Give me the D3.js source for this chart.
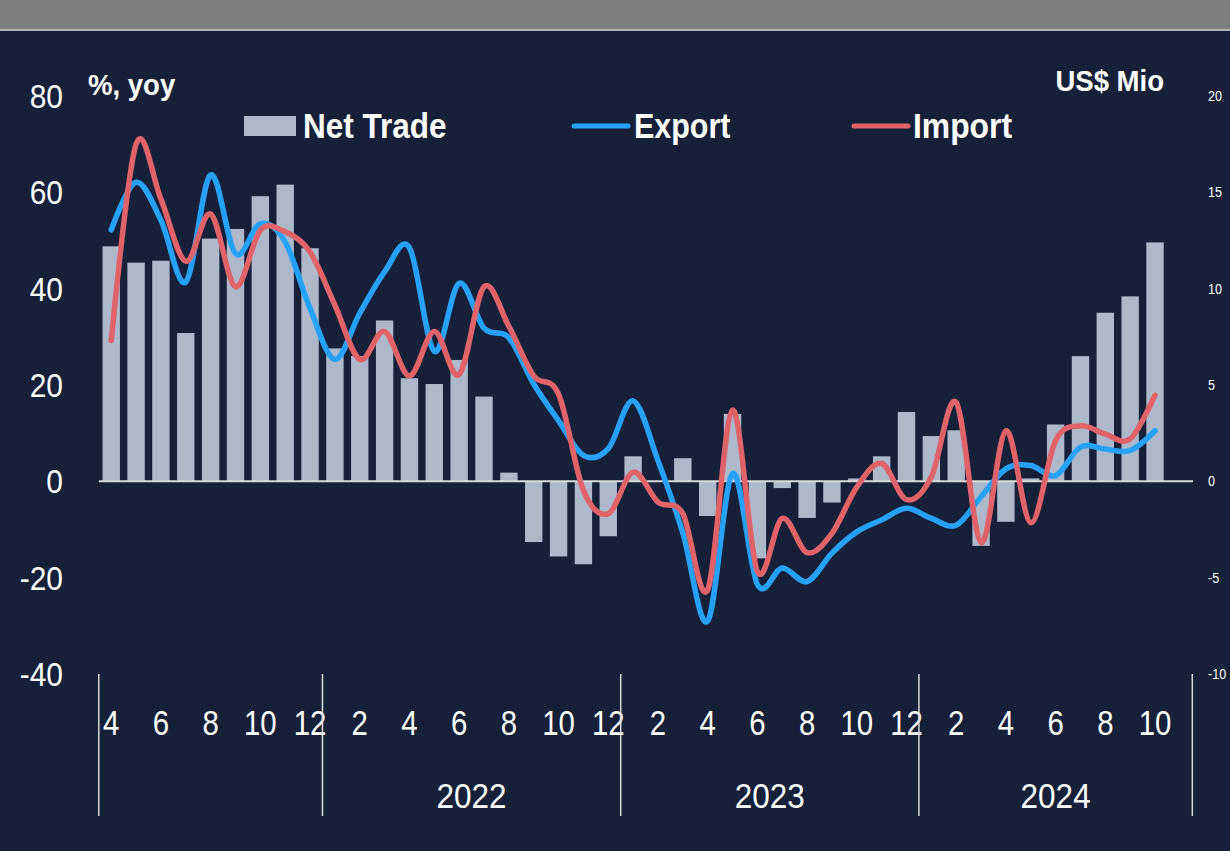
<!DOCTYPE html>
<html><head><meta charset="utf-8">
<script src="https://cdn.jsdelivr.net/npm/d3@7"></script>
<style>
html,body{margin:0;padding:0;background:#172039;}
text{font-family:"Liberation Sans Narrow","Arial Narrow","Liberation Sans",Arial,sans-serif;fill:#ffffff;}
</style></head>
<body><svg id="c" width="1230" height="851"></svg>
<script>
// Months Apr 2021 .. Nov 2024 (Nov 2024 is an empty slot on the axis)
const years = [2021, 2022, 2023, 2024];
const monthsPerYear = [[4,12],[1,12],[1,12],[1,11]];
const months = [];
years.forEach((y,i)=>{ for(let m=monthsPerYear[i][0]; m<=monthsPerYear[i][1]; m++) months.push({y, m, key: y+"-"+m}); });

// Net trade, US$ Mio (right axis), Apr 2021 .. Oct 2024
const netTrade = [12.2,11.35,11.45,7.7,12.6,13.1,14.8,15.4,12.1,
  6.9,6.5,8.35,5.35,5.05,6.3,4.4,0.45,-3.15,-3.9,-4.3,-2.85,
  1.3,0.0,1.2,-1.8,3.5,-4.0,-0.35,-1.9,-1.1,0.15,1.3,3.6,
  2.35,2.65,-3.35,-2.1,0.15,2.95,6.5,8.75,9.6,12.4];
// Export, % yoy (left axis)
const exportYoY = [52.2,62.1,54.2,41.4,63.6,47.3,53.5,49.7,35.9,
  25.3,34.9,43.5,48.5,27.0,41.1,31.8,29.8,20.2,12.6,5.4,6.8,
  16.7,4.3,-10.7,-29.0,1.6,-21.4,-18.0,-20.8,-14.9,-10.5,-8.0,-5.6,
  -7.7,-9.1,-3.2,2.6,3.3,1.2,7.1,6.7,6.4,10.5];
// Import, % yoy (left axis)
const importYoY = [29.2,70.0,58.6,45.7,55.5,40.4,52.1,51.8,47.6,
  36.6,25.3,31.1,21.9,31.1,22.2,40.4,32.2,21.9,18.1,-1.9,-6.7,
  1.9,-4.3,-6.7,-22.5,14.8,-18.7,-7.7,-14.8,-10.8,-1.2,3.7,-3.8,
  0.9,16.4,-12.7,10.5,-8.6,8.5,11.5,9.8,8.8,17.9];

const leftTicks = [80,60,40,20,0,-20,-40];
const rightTicks = [20,15,10,5,0,-5,-10];
const monthLabels = [2,4,6,8,10,12];
const yearLabels = [2022,2023,2024];

const W = 1230, H = 851;
const svg = d3.select("#c");
const colBg = "#172039", colBar = "#adb9cb", colExp = "#27a2fb", colImp = "#e0636a";

svg.append("rect").attr("width",W).attr("height",H).attr("fill",colBg);
svg.append("rect").attr("width",W).attr("height",29).attr("fill","#7f7f7f");
svg.append("rect").attr("y",29).attr("width",W).attr("height",2).attr("fill","#b4b4b4");

const x = d3.scaleBand().domain(months.map(d=>d.key)).range([98.8,1192.3]).paddingInner(0.3).paddingOuter(0.15);
const yL = d3.scaleLinear().domain([-40,80]).range([674,96]);
const yR = d3.scaleLinear().domain([-10,20]).range([674,96]);
const cx = i => x(months[i].key) + x.bandwidth()/2;

// condensed text helper (narrow font not installed)
function ctext(sel, fx, fy, sx){
  return sel.attr("x",0).attr("y",0)
    .attr("transform",(d,i)=>`translate(${typeof fx==="function"?fx(d,i):fx},${typeof fy==="function"?fy(d,i):fy}) scale(${sx},1)`);
}

// bars
svg.append("g").selectAll("rect").data(netTrade).join("rect")
  .attr("x",(d,i)=>x(months[i].key))
  .attr("width",x.bandwidth())
  .attr("y",d=>Math.min(yR(d),yR(0)))
  .attr("height",d=>Math.abs(yR(d)-yR(0)))
  .attr("fill",colBar);

// zero line
svg.append("line").attr("x1",98.8).attr("x2",1193).attr("y1",yL(0)).attr("y2",yL(0))
  .attr("stroke","#d9d9d9").attr("stroke-width",2);

const line = d3.line().x((d,i)=>cx(i)).y(d=>yL(d)).curve(d3.curveCatmullRom.alpha(0));
svg.append("path").datum(exportYoY).attr("d",line).attr("fill","none")
  .attr("stroke",colExp).attr("stroke-width",5.5).attr("stroke-linecap","round").attr("stroke-linejoin","round");
svg.append("path").datum(importYoY).attr("d",line).attr("fill","none")
  .attr("stroke",colImp).attr("stroke-width",5.5).attr("stroke-linecap","round").attr("stroke-linejoin","round");

// left axis labels
ctext(svg.append("g").selectAll("text").data(leftTicks).join("text"), 63, d=>yL(d)+12, 0.88)
  .attr("text-anchor","end").attr("font-size",34).text(d=>d);
// right axis labels
ctext(svg.append("g").selectAll("text").data(rightTicks).join("text"), 1208, d=>yR(d)+5, 0.9)
  .attr("text-anchor","start").attr("font-size",14).text(d=>d);

// axis titles
ctext(svg.append("text"), 88, 95, 0.95).attr("font-size",29).attr("font-weight","bold").text("%, yoy");
ctext(svg.append("text"), 1164, 91, 0.95).attr("text-anchor","end").attr("font-size",29).attr("font-weight","bold").text("US$ Mio");

// legend
const lg = svg.append("g");
lg.append("rect").attr("x",244).attr("y",116).attr("width",52).attr("height",20).attr("fill",colBar);
ctext(lg.append("text"), 303, 138, 0.9).attr("font-size",35).attr("font-weight","bold").text("Net Trade");
lg.append("line").attr("x1",574).attr("x2",628).attr("y1",126).attr("y2",126).attr("stroke",colExp).attr("stroke-width",5).attr("stroke-linecap","round");
ctext(lg.append("text"), 634, 138, 0.87).attr("font-size",35).attr("font-weight","bold").text("Export");
lg.append("line").attr("x1",854).attr("x2",908).attr("y1",126).attr("y2",126).attr("stroke",colImp).attr("stroke-width",5).attr("stroke-linecap","round");
ctext(lg.append("text"), 913, 138, 0.91).attr("font-size",35).attr("font-weight","bold").text("Import");

// month labels
const ml = months.map((d,i)=>({d,i})).filter(o=>monthLabels.includes(o.d.m) && o.i < netTrade.length);
ctext(svg.append("g").selectAll("text").data(ml).join("text"), o=>cx(o.i), 735, 0.84)
  .attr("text-anchor","middle").attr("font-size",35).text(o=>o.d.m);

// year separators
const sepX = [x(months[0].key) - x.step()*x.paddingOuter()];
years.forEach(y=>{
  const last = months.filter(d=>d.y===y).slice(-1)[0];
  sepX.push(x(last.key) + x.bandwidth() + x.step()*0.15);
});
svg.append("g").selectAll("line").data(sepX).join("line")
  .attr("x1",d=>d).attr("x2",d=>d).attr("y1",674).attr("y2",816)
  .attr("stroke","#d9d9d9").attr("stroke-width",1.5);

// year labels
ctext(svg.append("g").selectAll("text").data(yearLabels).join("text"),
  y=>{const i=years.indexOf(y); return (sepX[i]+sepX[i+1])/2;}, 808, 0.9)
  .attr("text-anchor","middle").attr("font-size",35).text(y=>y);
</script></body></html>
